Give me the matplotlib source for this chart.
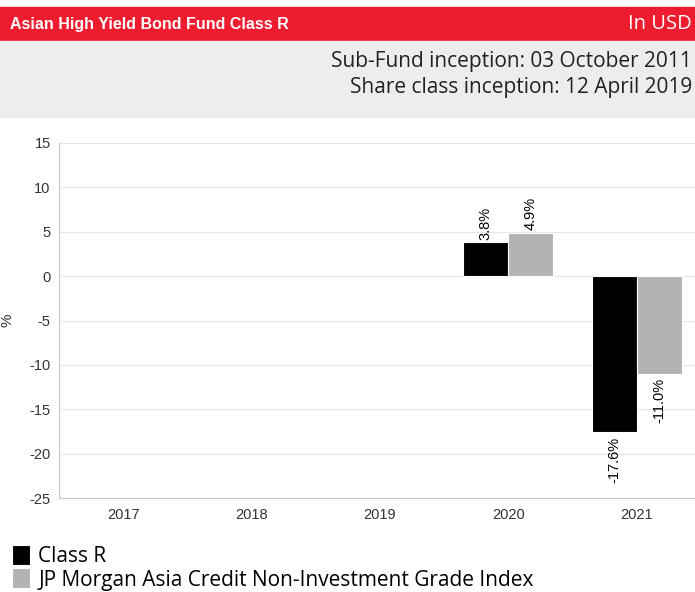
import matplotlib.pyplot as plt
import matplotlib.patches as mpatches
import numpy as np

plt.rcParams['axes.unicode_minus'] = False

# データ
years = ['2017', '2018', '2019', '2020', '2021']
class_r = [np.nan, np.nan, np.nan, 3.8, -17.6]
index_vals = [np.nan, np.nan, np.nan, 4.9, -11.0]
series_names = ['Class R', 'JP Morgan Asia Credit Non-Investment Grade Index']
title = 'Asian High Yield Bond Fund Class R'
currency = 'In USD'
info_lines = ['Sub-Fund inception: 03 October 2011', 'Share class inception: 12 April 2019']

W, H = 695, 592
fig = plt.figure(figsize=(W / 100, H / 100), dpi=100)
fig.patch.set_facecolor('white')

def fx(px):
    return px / W

def fy(py):
    return 1 - py / H

# ヘッダー
fig.patches.append(mpatches.Rectangle((0, fy(41)), 1, fy(7) - fy(41), transform=fig.transFigure,
                                      color='#ED1C2E', zorder=0))
fig.patches.append(mpatches.Rectangle((0, fy(117)), 1, fy(41) - fy(117), transform=fig.transFigure,
                                      color='#ECEDEF', zorder=0))
head_font = ['Open Sans', 'DejaVu Sans']
fig.text(fx(10), fy(24), title, color='white', fontsize=11.5, fontweight='bold',
         family='Liberation Sans', va='center', ha='left')
fig.text(fx(692), fy(24), currency, color='white', fontsize=14.5,
         family=head_font, va='center', ha='right')
for i, line in enumerate(info_lines):
    fig.text(fx(692), fy(62 + 25 * i), line, color='#222222', fontsize=15,
             family=head_font, va='center', ha='right')

# グラフ
ax = fig.add_axes([fx(59), fy(498), fx(701 - 59), fy(143) - fy(498)])
x = np.arange(len(years))
w = 0.35
b1 = ax.bar(x - w / 2, class_r, w, color='black', edgecolor='white', linewidth=0.8, zorder=3)
b2 = ax.bar(x + w / 2, index_vals, w, color='#B3B3B3', edgecolor='white', linewidth=0.8, zorder=3)

for bars, vals in ((b1, class_r), (b2, index_vals)):
    for rect, v in zip(bars, vals):
        if np.isnan(v):
            continue
        cx = rect.get_x() + rect.get_width() / 2
        if v >= 0:
            ax.annotate(f'{v:.1f}%', (cx, v), xytext=(0, 2), textcoords='offset points',
                        rotation=90, ha='center', va='bottom', fontsize=10.5,
                        family='Liberation Sans', color='black')
        else:
            ax.annotate(f'{v:.1f}%', (cx, v), xytext=(0, -3), textcoords='offset points',
                        rotation=90, ha='center', va='top', fontsize=10.5,
                        family='Liberation Sans', color='black')

ax.set_xlim(-0.5, 4.5)
ax.set_ylim(-25, 15)
ax.set_yticks(range(-25, 16, 5))
ax.set_xticks(x)
ax.set_xticklabels(years)
ax.grid(axis='y', color='#E6E6E6', linewidth=0.8, zorder=0)
ax.set_axisbelow(True)
for s in ('top', 'right'):
    ax.spines[s].set_visible(False)
ax.spines['left'].set_color('#C8C8C8')
ax.spines['bottom'].set_color('#C8C8C8')
ax.tick_params(axis='both', length=0, labelsize=10.5, labelcolor='#333333')
for lab in ax.get_xticklabels() + ax.get_yticklabels():
    lab.set_family('Liberation Sans')
ax.tick_params(axis='x', pad=7)
ax.tick_params(axis='y', pad=6)
fig.text(fx(7), fy(320), '%', rotation=90, fontsize=11, family='Liberation Sans',
         color='#333333', va='center', ha='center')

# 凡例
fig.legend([b1, b2], series_names, loc='upper left', bbox_to_anchor=(fx(4), fy(537)),
           frameon=False, prop={'family': head_font, 'size': 15},
           handlelength=0.85, handleheight=1.1, handletextpad=0.4, labelspacing=0.05,
           borderaxespad=0)

fig.savefig('out.png', dpi=100, facecolor='white')
